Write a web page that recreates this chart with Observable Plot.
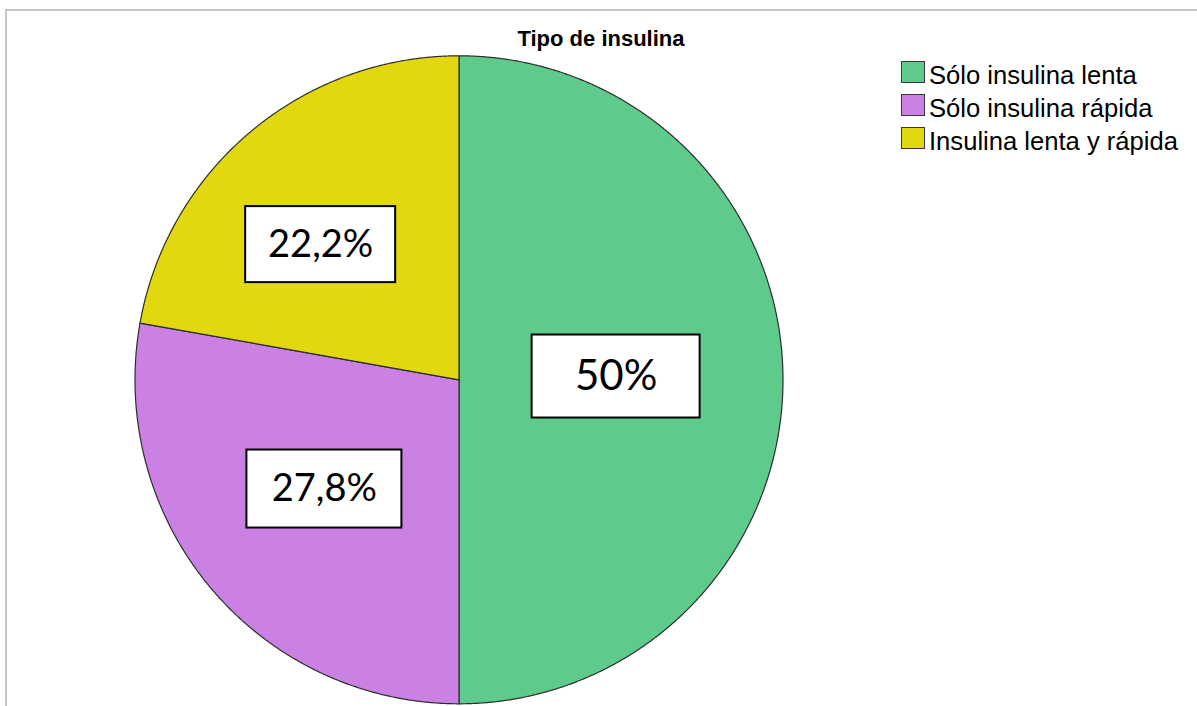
<!DOCTYPE html>
<html>
<head>
<meta charset="utf-8">
<script src="https://cdn.jsdelivr.net/npm/d3@7"></script>
<script src="https://cdn.jsdelivr.net/npm/@observablehq/plot@0.6"></script>
<style>
  html, body { margin: 0; padding: 0; background: #fff; }
  #wrap { position: relative; width: 1197px; height: 706px; overflow: hidden; }
  #frame { position: absolute; left: 5px; top: 9px; right: -10px; bottom: -10px;
           border-top: 2px solid #c6c6c6; border-left: 2px solid #c6c6c6; }
  #chart { position: absolute; left: 0; top: 0; }
  #title { position: absolute; left: 0; width: 1202px; top: 28px; text-align: center;
           font: bold 22px/22px "Liberation Sans", Arial, sans-serif; color: #000; }
  #legend { position: absolute; left: 901px; top: 58.6px;
            font: 25.6px/33px "Liberation Sans", Arial, sans-serif; color: #000; }
  .row { position: relative; height: 33px; white-space: nowrap; }
  .sw { position: absolute; left: 0; top: 2.4px; width: 22px; height: 20px;
        border: 1.6px solid #3a3a3a; }
  .lab { position: absolute; left: 28px; top: 0; }
</style>
</head>
<body>
<div id="wrap">
  <div id="frame"></div>
  <div id="chart"></div>
  <div id="title">Tipo de insulina</div>
  <div id="legend"></div>
</div>
<script>
// Tipo de insulina: share of patients per insulin regimen
const categories = ["Sólo insulina lenta", "Sólo insulina rápida", "Insulina lenta y rápida"];
const percentages = [50, 27.8, 22.2];
const colors = ["#5eca8b", "#cb80e3", "#e2d810"];

// Spanish number formatting (decimal comma)
const es = d3.formatLocale({decimal: ",", thousands: ".", grouping: [3], currency: ["", " €"]});
const fmt = es.format(".3~r");

const rows = categories.map((key, i) => ({key, value: percentages[i], label: fmt(percentages[i]) + "%"}));

// Pie geometry in pixels (the x/y scales map [-1, 1] onto the circle's bounding box)
const W = 1197, H = 706;
const CX = 458.5, CY = 379.3, R = 324;

// Slices: clockwise from 12 o'clock, in data order
const arcs = d3.pie().sort(null).value(d => d.value)(rows);
const slicePoints = arcs.flatMap(a => {
  const key = a.data.key;
  const n = Math.max(2, Math.ceil((a.endAngle - a.startAngle) / (Math.PI / 720)));
  const pts = [{key, x: 0, y: 0}];
  for (let i = 0; i <= n; ++i) {
    const t = a.startAngle + (a.endAngle - a.startAngle) * i / n;
    pts.push({key, x: Math.sin(t), y: Math.cos(t)});
  }
  pts.push({key, x: 0, y: 0});
  return pts;
});

// Label placement along each slice's mid-angle (radius fraction, angular nudge in degrees)
// and the size of the white box behind each label, in pixels
const placement = {
  "Sólo insulina lenta":     {k: 0.485, turn: -1.2, w: 168, h: 83, size: 42},
  "Sólo insulina rápida":    {k: 0.535, turn: 0.9,  w: 155, h: 78, size: 38},
  "Insulina lenta y rápida": {k: 0.597, turn: -5.7, w: 150, h: 76, size: 38}
};
const labelRows = arcs.map(a => {
  const p = placement[a.data.key];
  const t = (a.startAngle + a.endAngle) / 2 + p.turn * Math.PI / 180;
  const x = p.k * Math.sin(t), y = p.k * Math.cos(t);
  const hw = p.w / 2 / R, hh = p.h / 2 / R;
  return {key: a.data.key, label: a.data.label, x, y, size: p.size,
          x1: x - hw, x2: x + hw, y1: y - hh, y2: y + hh};
});

const chart = Plot.plot({
  width: W,
  height: H,
  marginLeft: CX - R,
  marginRight: W - (CX + R),
  marginTop: CY - R,
  marginBottom: H - (CY + R),
  x: {domain: [-1, 1], axis: null},
  y: {domain: [-1, 1], axis: null},
  color: {domain: categories, range: colors},
  style: {background: "transparent", overflow: "visible"},
  marks: [
    Plot.line(slicePoints, {
      x: "x", y: "y", z: "key", fill: "key",
      stroke: "#2e2e2e", strokeWidth: 1.2, strokeLinejoin: "round", curve: "linear"
    }),
    Plot.rect(labelRows, {
      x1: "x1", x2: "x2", y1: "y1", y2: "y2",
      fill: "#fff", stroke: "#000", strokeWidth: 2
    }),
    Plot.text(labelRows, {
      x: "x", y: "y", text: "label", fontSize: d => d.size,
      fontFamily: "Lato, 'Open Sans', sans-serif", fill: "#000"
    })
  ]
});
document.getElementById("chart").appendChild(chart);

// Legend built from the plot's own color scale
const color = chart.scale("color");
const legend = d3.select("#legend");
color.domain.forEach((key, i) => {
  const row = legend.append("div").attr("class", "row");
  row.append("div").attr("class", "sw").style("background", color.range[i]);
  row.append("div").attr("class", "lab").text(key);
});
</script>
</body>
</html>
